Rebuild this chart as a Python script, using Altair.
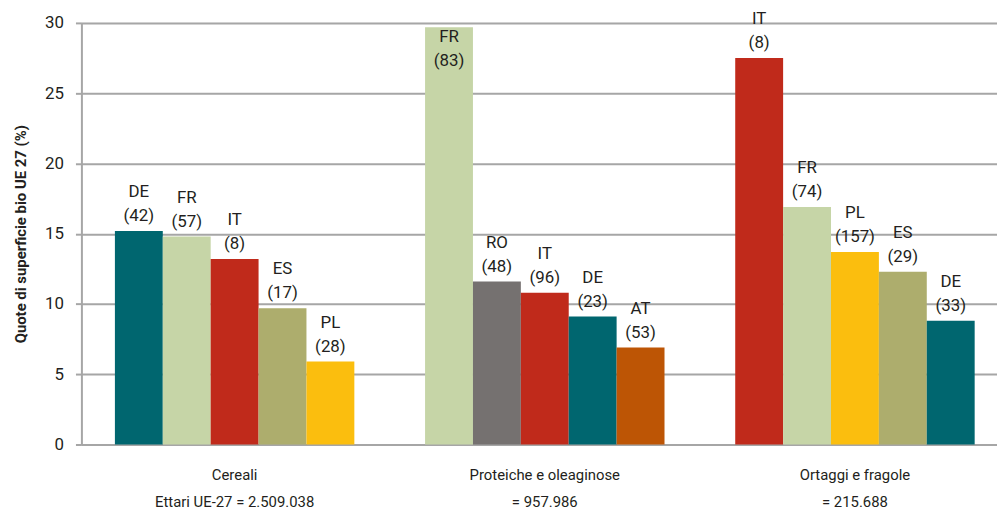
import altair as alt
import pandas as pd

# ---- data ----
groups = ["Cereali", "Proteiche e oleaginose", "Ortaggi e fragole"]
group_totals = ["Ettari UE-27 = 2.509.038", "= 957.986", "=  215.688"]

cereali_countries = ["DE", "FR", "IT", "ES", "PL"]
cereali_values = [15.2, 14.8, 13.2, 9.7, 5.9]
cereali_ranks = [42, 57, 8, 17, 28]

proteiche_countries = ["FR", "RO", "IT", "DE", "AT"]
proteiche_values = [29.7, 11.6, 10.8, 9.1, 6.9]
proteiche_ranks = [83, 48, 96, 23, 53]

ortaggi_countries = ["IT", "FR", "PL", "ES", "DE"]
ortaggi_values = [27.5, 16.9, 13.7, 12.3, 8.8]
ortaggi_ranks = [8, 74, 157, 29, 33]

country_domain = ["DE", "FR", "IT", "ES", "PL", "RO", "AT"]
country_colors = ["#00666F", "#C6D5A7", "#C02A1B", "#ADAD6D", "#FBBE0E", "#757170", "#BD5505"]

y_ticks = [0, 5, 10, 15, 20, 25, 30]

# ---- table ----
group_labels = [g + "|" + t for g, t in zip(groups, group_totals)]
series = [
    (cereali_countries, cereali_values, cereali_ranks),
    (proteiche_countries, proteiche_values, proteiche_ranks),
    (ortaggi_countries, ortaggi_values, ortaggi_ranks),
]
rows = []
for gl, (cs, vs, rs) in zip(group_labels, series):
    for i, (c, v, r) in enumerate(zip(cs, vs, rs)):
        rows.append({"grp": gl, "pos": i, "country": c, "value": v,
                     "label": f"{c}\n({r})"})
df = pd.DataFrame(rows)

FONT = "Roboto, Liberation Sans, sans-serif"
TXT = "#231F20"
GRID = "#A6A6A6"

x = alt.X(
    "grp:N",
    sort=group_labels,
    scale=alt.Scale(paddingInner=0.228, paddingOuter=0.09, align=0.6),
    axis=alt.Axis(
        title=None,
        labelExpr="split(datum.label, '|')",
        labelAngle=0,
        ticks=False,
        domainColor=GRID,
        domainWidth=2,
        labelFont=FONT,
        labelFontSize=15,
        labelColor=TXT,
        labelLineHeight=28,
        labelPadding=23,
    ),
)
xo = alt.XOffset("pos:O", scale=alt.Scale(paddingInner=0, paddingOuter=0))
y = alt.Y(
    "value:Q",
    scale=alt.Scale(domain=[0, 30], nice=False),
    axis=alt.Axis(
        values=y_ticks,
        title="Quote di superficie bio UE 27 (%)",
        titleFont=FONT,
        titleFontSize=15,
        titleFontWeight="bold",
        titleColor=TXT,
        titlePadding=16,
        labelFont=FONT,
        labelFontSize=17,
        labelColor=TXT,
        labelPadding=12,
        tickSize=6,
        tickColor=GRID,
        tickWidth=2,
        domainColor=GRID,
        domainWidth=2,
        gridColor=GRID,
        gridWidth=2,
    ),
)

base = alt.Chart(df)

bars = base.mark_bar().encode(
    x=x,
    xOffset=xo,
    y=y,
    color=alt.Color("country:N",
                    scale=alt.Scale(domain=country_domain, range=country_colors),
                    legend=None),
)

above = base.transform_filter("datum.value < 28").mark_text(
    baseline="bottom", dy=-30, lineBreak="\n", lineHeight=24,
    font=FONT, fontSize=17, color=TXT,
).encode(x=x, xOffset=xo, y=y, text="label:N")

inside = base.transform_filter("datum.value >= 28").mark_text(
    baseline="top", dy=2, lineBreak="\n", lineHeight=24,
    font=FONT, fontSize=17, color=TXT,
).encode(x=x, xOffset=xo, y=y, text="label:N")

chart = (
    alt.layer(bars, above, inside)
    .properties(
        width=923,
        height=425,
        autosize=alt.AutoSizeParams(type="none"),
        padding={"left": 74, "top": 13, "right": 0, "bottom": 64},
    )
    .configure_view(strokeWidth=0)
    .configure(background="white")
)

chart.save("out.html", embed_options={"renderer": "svg", "actions": False})
